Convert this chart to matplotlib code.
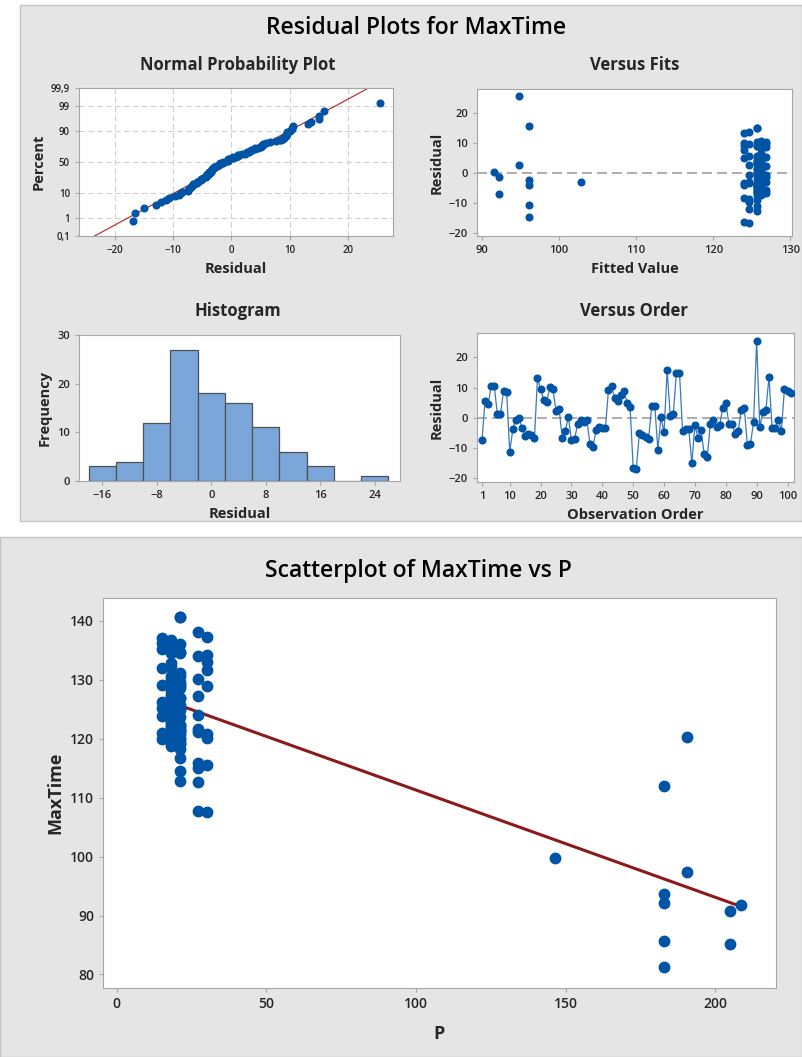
import numpy as np
import matplotlib
matplotlib.use("Agg")
import matplotlib.pyplot as plt
from matplotlib.patches import Rectangle
from statistics import NormalDist

plt.rcParams['font.family'] = ['Open Sans', 'DejaVu Sans']

# regression of MaxTime on P, residuals listed in observation order
residual = [
    -7.4, 5.5, 4.5, 10.4, 10.5, 1.2, 1.2, 9.0, 8.5, -11.2,
    -3.8, -0.6, 0.0, -3.3, -5.9, -5.2, -5.5, -6.8, 13.2, 9.5,
    5.9, 5.3, 10.1, 9.5, 2.3, 3.0, -6.5, -4.3, 0.3, -7.4,
    -7.0, -2.1, -0.8, -1.5, -0.6, -8.7, -9.6, -3.9, -2.9, -3.3,
    -3.4, 9.4, 10.4, 6.7, 5.5, 7.7, 9.0, 5.0, 3.6, -16.5,
    -16.9, -5.1, -5.8, -6.4, -6.9, 4.0, 4.0, -10.6, 0.3, -4.8,
    15.8, 0.8, 1.2, 15.0, 15.0, -4.3, -3.8, -3.5, -14.9, -2.5,
    -6.5, -4.1, -12.0, -12.9, -1.9, -0.6, -3.0, -2.5, 3.4, 5.0,
    -1.9, -1.9, -5.2, -4.4, 2.5, 3.2, -9.0, -8.5, -1.4, 25.5,
    -3.0, 1.9, 2.6, 13.6, -3.3, -3.3, -0.6, -4.2, 9.5, 8.9,
    8.4,
]
p_value = [
    18, 21, 18, 15, 18, 21, 18, 21, 15, 21,
    18, 15, 21, 18, 21, 18, 21, 15, 30, 15,
    18, 15, 30, 27, 15, 21, 18, 21, 18, 21,
    205, 18, 21, 15, 27, 27, 27, 30, 15, 18,
    21, 18, 21, 18, 27, 30, 30, 30, 21, 30,
    27, 18, 15, 21, 18, 21, 18, 183, 208.5, 21,
    183, 18, 21, 21, 21, 18, 21, 27, 183, 18,
    21, 183, 27, 21, 18, 21, 146.5, 183, 18, 21,
    18, 21, 18, 21, 190.5, 21, 21, 30, 205, 190.5,
    27, 18, 27, 27, 30, 21, 18, 21, 18, 21,
    18,
]
intercept = 129.5
slope = -0.182

pct_ticks = [0.1, 1, 10, 50, 90, 99, 99.9]
pct_labels = ['0,1', '1', '10', '50', '90', '99', '99,9']

resid = np.array(residual)
p = np.array(p_value, dtype=float)
fits = intercept + slope * p
max_time = fits + resid
order = np.arange(1, len(resid) + 1)

BLUE = '#0054a6'
GRID = '#d0d0d0'
SPINE = '#a6a6a6'
TXT = '#262626'
W, H = 802, 1057


def box(l, t, r, b):
    return [l / W, 1 - b / H, (r - l) / W, (b - t) / H]


def style(ax, size=8):
    for s in ax.spines.values():
        s.set_color(SPINE)
    ax.tick_params(colors=SPINE, labelcolor=TXT, labelsize=size, length=3, width=0.8)
    for lab in ax.get_xticklabels() + ax.get_yticklabels():
        lab.set_fontweight('semibold')


fig = plt.figure(figsize=(W / 100, H / 100), dpi=100, facecolor='white')
fig.patches.append(Rectangle((20 / W, 1 - 521 / H), (W - 20) / W, 516 / H,
                             transform=fig.transFigure, facecolor='#e5e5e5',
                             edgecolor='#c4c4c4', lw=1, zorder=-10))
fig.patches.append(Rectangle((0, 0), 1, 1 - 537 / H,
                             transform=fig.transFigure, facecolor='#e5e5e5',
                             edgecolor='#c4c4c4', lw=1, zorder=-10))

fig.text(416 / W, 1 - 28 / H, 'Residual Plots for MaxTime', ha='center', va='center',
         fontsize=16.5, fontweight='semibold', color='black')
for x, y, t in [(238, 65, 'Normal Probability Plot'), (635, 65, 'Versus Fits'),
                (238, 311, 'Histogram'), (634, 311, 'Versus Order')]:
    fig.text(x / W, 1 - y / H, t, ha='center', va='center', fontsize=12,
             fontweight='bold', color=TXT)

# normal probability plot
nd = NormalDist()
srt = np.sort(resid)
n = len(srt)
z = np.array([nd.inv_cdf((i - 0.3) / (n + 0.4)) for i in range(1, n + 1)])
ax = fig.add_axes(box(79, 88, 393, 236))
zlim = nd.inv_cdf(0.001)
sd = resid.std(ddof=1)
zz = np.array([zlim, -zlim])
ax.plot(resid.mean() + sd * zz, zz, color='#b22222', lw=0.8, zorder=2)
ax.plot(srt, z, 'o', color=BLUE, ms=4.8, zorder=3)
ax.set_ylim(zlim, -zlim)
ax.set_xlim(-26.1, 27.7)
ax.set_yticks([nd.inv_cdf(v / 100) for v in pct_ticks])
ax.set_yticklabels(pct_labels)
ax.set_xticks([-20, -10, 0, 10, 20])
ax.grid(True, color=GRID, ls=(0, (5, 3)), lw=0.8)
ax.set_axisbelow(True)
ax.set_xlabel('Residual', fontsize=10.5, fontweight='bold', color=TXT)
ax.set_ylabel('Percent', fontsize=10.5, fontweight='bold', color=TXT)
style(ax, 7)

# residuals versus fits
ax = fig.add_axes(box(477, 89, 792, 236))
ax.axhline(0, color='#a0a0a0', ls=(0, (6, 3)), lw=1.2, zorder=1)
ax.plot(fits, resid, 'o', color=BLUE, ms=4.8, zorder=3)
ax.set_xlim(89.4, 130.2)
ax.set_ylim(-21.1, 28)
ax.set_xticks([90, 100, 110, 120, 130])
ax.set_yticks([-20, -10, 0, 10, 20])
ax.set_xlabel('Fitted Value', fontsize=10.5, fontweight='bold', color=TXT)
ax.set_ylabel('Residual', fontsize=10.5, fontweight='bold', color=TXT)
style(ax)

# histogram of residuals
ax = fig.add_axes(box(79, 335, 400, 481))
ax.hist(resid, bins=np.arange(-18, 27, 4), color='#7ba6d9', edgecolor='#505050', lw=0.9)
ax.set_xlim(-19.4, 27.7)
ax.set_ylim(0, 30)
ax.set_xticks([-16, -8, 0, 8, 16, 24])
ax.set_yticks([0, 10, 20, 30])
ax.set_xlabel('Residual', fontsize=10.5, fontweight='bold', color=TXT)
ax.set_ylabel('Frequency', fontsize=10.5, fontweight='bold', color=TXT)
style(ax)

# residuals versus order
ax = fig.add_axes(box(477, 333, 794, 482))
ax.axhline(0, color='#a0a0a0', ls=(0, (6, 3)), lw=1.2, zorder=1)
ax.plot(order, resid, '-', color='#3a78c2', lw=0.9, zorder=2)
ax.plot(order, resid, 'o', color=BLUE, ms=4.8, zorder=3)
ax.set_xlim(-0.6, 102.1)
ax.set_ylim(-21.2, 28.1)
ax.set_xticks([1, 10, 20, 30, 40, 50, 60, 70, 80, 90, 100])
ax.set_yticks([-20, -10, 0, 10, 20])
ax.set_xlabel('Observation Order', fontsize=10.5, fontweight='bold', color=TXT)
ax.set_ylabel('Residual', fontsize=10.5, fontweight='bold', color=TXT)
style(ax)

# fitted line plot
fig.text(418 / W, 1 - 571 / H, 'Scatterplot of MaxTime vs P', ha='center', va='center',
         fontsize=16.5, fontweight='semibold', color='black')
ax = fig.add_axes(box(103, 598, 776, 988))
ax.plot(p, max_time, 'o', color=BLUE, ms=7.5, zorder=3)
px = np.array([p.min(), p.max()])
ax.plot(px, intercept + slope * px, color='#8b1a1a', lw=2.2, zorder=2)
ax.set_xlim(-4.6, 220.3)
ax.set_ylim(77.7, 143.9)
ax.set_xticks([0, 50, 100, 150, 200])
ax.set_yticks([80, 90, 100, 110, 120, 130, 140])
ax.set_xlabel('P', fontsize=13, fontweight='bold', color=TXT, labelpad=10)
ax.set_ylabel('MaxTime', fontsize=13, fontweight='bold', color=TXT, labelpad=4)
style(ax, 10)

fig.savefig('out.png', dpi=100, facecolor='white')
